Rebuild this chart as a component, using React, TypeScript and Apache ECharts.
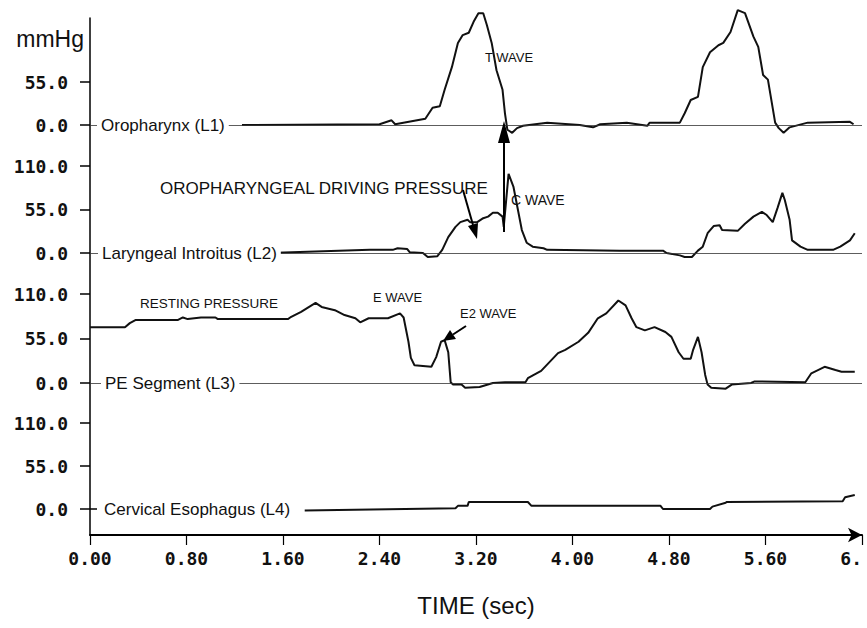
import React, { useEffect, useRef } from "react";
import * as echarts from "echarts";

// ---- Data (time in seconds, pressure in mmHg) ----
const l1Time = [1.26, 2.4, 2.5, 2.53, 2.78, 2.84, 2.9, 2.94, 3.0, 3.05, 3.09, 3.14, 3.18, 3.22, 3.26, 3.29, 3.33, 3.37, 3.42, 3.44, 3.46, 3.5, 3.54, 3.59, 3.79, 4.06, 4.17, 4.23, 4.45, 4.62, 4.64, 4.89, 4.93, 4.98, 5.04, 5.08, 5.14, 5.21, 5.25, 5.31, 5.37, 5.43, 5.5, 5.54, 5.58, 5.62, 5.68, 5.71, 5.75, 5.8, 5.95, 6.3, 6.33];
const l1Pressure = [0, 1, 6, 1, 8, 22, 24, 45, 74, 105, 115, 118, 132, 143, 143, 128, 105, 70, 45, 15, -6, -10, -4, -1, 3, 0, -3, 1, 3, -1, 3, 3, 15, 32, 36, 74, 93, 102, 105, 119, 147, 143, 113, 100, 64, 58, 3, -4, -10, -3, 3, 4, 1];

const l2Time = [1.48, 2.32, 2.51, 2.55, 2.63, 2.65, 2.76, 2.8, 2.88, 2.92, 2.97, 3.03, 3.07, 3.13, 3.15, 3.21, 3.26, 3.3, 3.34, 3.38, 3.42, 3.43, 3.47, 3.51, 3.58, 3.62, 3.67, 3.76, 3.79, 4.39, 4.75, 4.78, 4.89, 4.93, 4.99, 5.04, 5.08, 5.12, 5.17, 5.22, 5.24, 5.37, 5.43, 5.5, 5.57, 5.61, 5.66, 5.7, 5.74, 5.76, 5.8, 5.82, 5.89, 5.95, 6.16, 6.22, 6.3, 6.34];
const l2Pressure = [0, 4, 4, 6, 5, 1, 0, -5, -4, 4, 20, 33, 39, 42, 39, 39, 44, 46, 51, 51, 46, 33, 100, 84, 29, 13, 8, 6, 4, 3, 3, 0, -3, -5, -5, 3, 8, 25, 34, 35, 29, 28, 37, 46, 52, 48, 39, 57, 76, 67, 42, 16, 8, 4, 4, 8, 16, 25];

const l3Time = [0, 0.29, 0.33, 0.38, 0.73, 0.77, 0.81, 0.92, 1.04, 1.06, 1.64, 1.66, 1.75, 1.87, 1.92, 2.03, 2.11, 2.2, 2.24, 2.31, 2.47, 2.57, 2.6, 2.64, 2.66, 2.69, 2.83, 2.87, 2.91, 2.94, 2.97, 2.99, 3.01, 3.08, 3.11, 3.23, 3.34, 3.44, 3.61, 3.63, 3.74, 3.88, 3.94, 4.05, 4.13, 4.21, 4.28, 4.38, 4.44, 4.49, 4.53, 4.6, 4.68, 4.77, 4.82, 4.88, 4.92, 4.98, 5.0, 5.04, 5.07, 5.1, 5.12, 5.15, 5.27, 5.32, 5.48, 5.51, 5.93, 5.98, 6.09, 6.18, 6.23, 6.34];
const l3Pressure = [69, 69, 74, 78, 78, 81, 79, 81, 81, 79, 79, 81, 88, 99, 94, 90, 84, 80, 75, 80, 80, 86, 81, 51, 31, 22, 20, 32, 51, 53, 38, 1, -2, -2, -6, -5, 0, 1, 1, 6, 15, 37, 41, 51, 62, 80, 86, 102, 96, 80, 69, 65, 69, 63, 57, 38, 30, 30, 41, 57, 38, 10, -2, -6, -7, -2, 0, 2, 1, 12, 20, 16, 14, 14];

const l4Time = [1.78, 3.03, 3.05, 3.13, 3.14, 3.63, 3.66, 4.06, 4.73, 4.75, 5.14, 5.16, 5.27, 5.28, 6.24, 6.26, 6.34];
const l4Pressure = [-2, 1, 4, 4, 9, 9, 4, 4, 4, 0, 0, 3, 8, 9, 10, 15, 18];

const channelNames = ["Oropharynx (L1)", "Laryngeal Introitus (L2)", "PE Segment (L3)", "Cervical Esophagus (L4)"];
const channelMax = [55, 110, 110, 110];
const timeMin = 0;
const timeMax = 6.4;
const timeStep = 0.8;
const pressureStep = 55;

const zip = (t: number[], p: number[]) => t.map((v, i) => [v, p[i]]);

export default function App() {
  const ref = useRef<HTMLDivElement>(null);

  useEffect(() => {
    if (!ref.current) return;
    const chart = echarts.init(ref.current, null, { renderer: "svg" });

    const LEFT = 90;
    const RIGHT = 5;
    const H = 628;
    const panels = [
      { top: 82, bottom: 125 },
      { top: 166, bottom: 253 },
      { top: 294, bottom: 383 },
      { top: 423, bottom: 509 },
    ];
    const traces = [zip(l1Time, l1Pressure), zip(l2Time, l2Pressure), zip(l3Time, l3Pressure), zip(l4Time, l4Pressure)];

    const tickFont = { fontFamily: "DejaVu Sans Mono", fontWeight: "bold" as const, fontSize: 18, color: "#111" };
    const sans = "Liberation Sans, Arial, sans-serif";

    const grids: any[] = [
      { left: LEFT, right: RIGHT, top: 18, bottom: H - 535, outerBoundsMode: "none", containLabel: false },
    ];
    const xAxes: any[] = [
      {
        type: "value",
        gridIndex: 0,
        min: timeMin,
        max: timeMax,
        interval: timeStep,
        name: "TIME (sec)",
        nameLocation: "middle",
        nameGap: 58,
        nameTextStyle: { fontFamily: sans, fontSize: 24, color: "#111" },
        axisLine: { show: true, symbol: ["none", "arrow"], symbolSize: [11, 14], lineStyle: { color: "#000", width: 2 } },
        axisTick: { show: true, inside: false, length: 10, lineStyle: { color: "#000", width: 1.2 } },
        axisLabel: {
          show: true,
          margin: 14,
          ...tickFont,
          alignMaxLabel: "right",
          formatter: (v: number) => (Math.abs(v - timeMax) < 1e-6 ? "6." : v.toFixed(2)),
        },
        splitLine: { show: false },
      },
    ];
    const yAxes: any[] = [
      {
        type: "value",
        gridIndex: 0,
        min: 0,
        max: 1,
        axisLine: { show: true, lineStyle: { color: "#000", width: 1.5 } },
        axisTick: { show: false },
        axisLabel: { show: false },
        splitLine: { show: false },
      },
    ];
    const series: any[] = [];

    panels.forEach((p, i) => {
      grids.push({ left: LEFT, right: RIGHT, top: p.top, bottom: H - p.bottom, outerBoundsMode: "none", containLabel: false });
      xAxes.push({ type: "value", gridIndex: i + 1, min: timeMin, max: timeMax, show: false });
      yAxes.push({
        type: "value",
        gridIndex: i + 1,
        min: 0,
        max: channelMax[i],
        interval: pressureStep,
        axisLine: { show: false },
        axisTick: { show: true, inside: false, length: 10, lineStyle: { color: "#000", width: 1.5 } },
        axisLabel: { show: true, margin: 22, ...tickFont, formatter: (v: number) => v.toFixed(1) },
        splitLine: { show: false },
      });
      series.push({
        name: channelNames[i],
        type: "line",
        xAxisIndex: i + 1,
        yAxisIndex: i + 1,
        data: traces[i],
        showSymbol: false,
        clip: false,
        lineStyle: { color: "#111", width: 2 },
        z: 3,
        markLine:
          i < 3
            ? {
                silent: true,
                symbol: "none",
                label: { show: false },
                lineStyle: { color: "#333", width: 0.8, type: "solid" },
                data: [{ yAxis: 0 }],
              }
            : undefined,
      });
    });

    const labelText = (text: string, x: number, y: number) => ({
      type: "text",
      x,
      y,
      z: 100,
      style: {
        text,
        fill: "#111",
        font: `17px ${sans}`,
        align: "left",
        verticalAlign: "middle",
        backgroundColor: "#fff",
        padding: [0, 4, 0, 4],
      },
    });
    const annot = (text: string, x: number, y: number, size = 13) => ({
      type: "text",
      x,
      y,
      z: 100,
      style: { text, fill: "#111", font: `${size}px ${sans}`, align: "left", verticalAlign: "middle" },
    });
    const arrowLine = (x1: number, y1: number, x2: number, y2: number) => ({
      type: "line",
      z: 100,
      shape: { x1, y1, x2, y2 },
      style: { stroke: "#000", lineWidth: 2 },
    });
    const head = (pts: number[][]) => ({ type: "polygon", z: 100, shape: { points: pts }, style: { fill: "#000" } });

    const option: any = {
      animation: false,
      backgroundColor: "#fff",
      grid: grids,
      xAxis: xAxes,
      yAxis: yAxes,
      series,
      graphic: [
        { type: "text", x: 84, y: 39, z: 100, style: { text: "mmHg", fill: "#111", font: `23px ${sans}`, align: "right", verticalAlign: "middle" } },
        { type: "line", z: 100, shape: { x1: 90, y1: 509, x2: 97, y2: 509 }, style: { stroke: "#000", lineWidth: 1.5 } },
        labelText(channelNames[0], 97, 125),
        labelText(channelNames[1], 98, 253),
        labelText(channelNames[2], 101, 383),
        labelText(channelNames[3], 100, 509),
        annot("T WAVE", 485, 57, 13),
        annot("OROPHARYNGEAL DRIVING PRESSURE", 160, 188, 17),
        annot("C WAVE", 511, 200, 14),
        annot("RESTING PRESSURE", 140, 303, 13.5),
        annot("E WAVE", 373, 297, 13),
        annot("E2 WAVE", 460, 313, 13),
        arrowLine(504, 232, 504, 140),
        head([[504, 121], [498, 143], [510, 143]]),
        arrowLine(463, 190, 473, 225),
        head([[477, 239], [478, 223], [468, 226]]),
        arrowLine(466, 326, 453, 334.5),
        head([[443, 341], [456, 339], [450, 330]]),
      ],
    };

    chart.setOption(option);
    return () => chart.dispose();
  }, []);

  return (
    <div
      ref={ref}
      style={{ position: "absolute", left: 0, top: 0, width: 867, height: 628, background: "#fff" }}
    />
  );
}
